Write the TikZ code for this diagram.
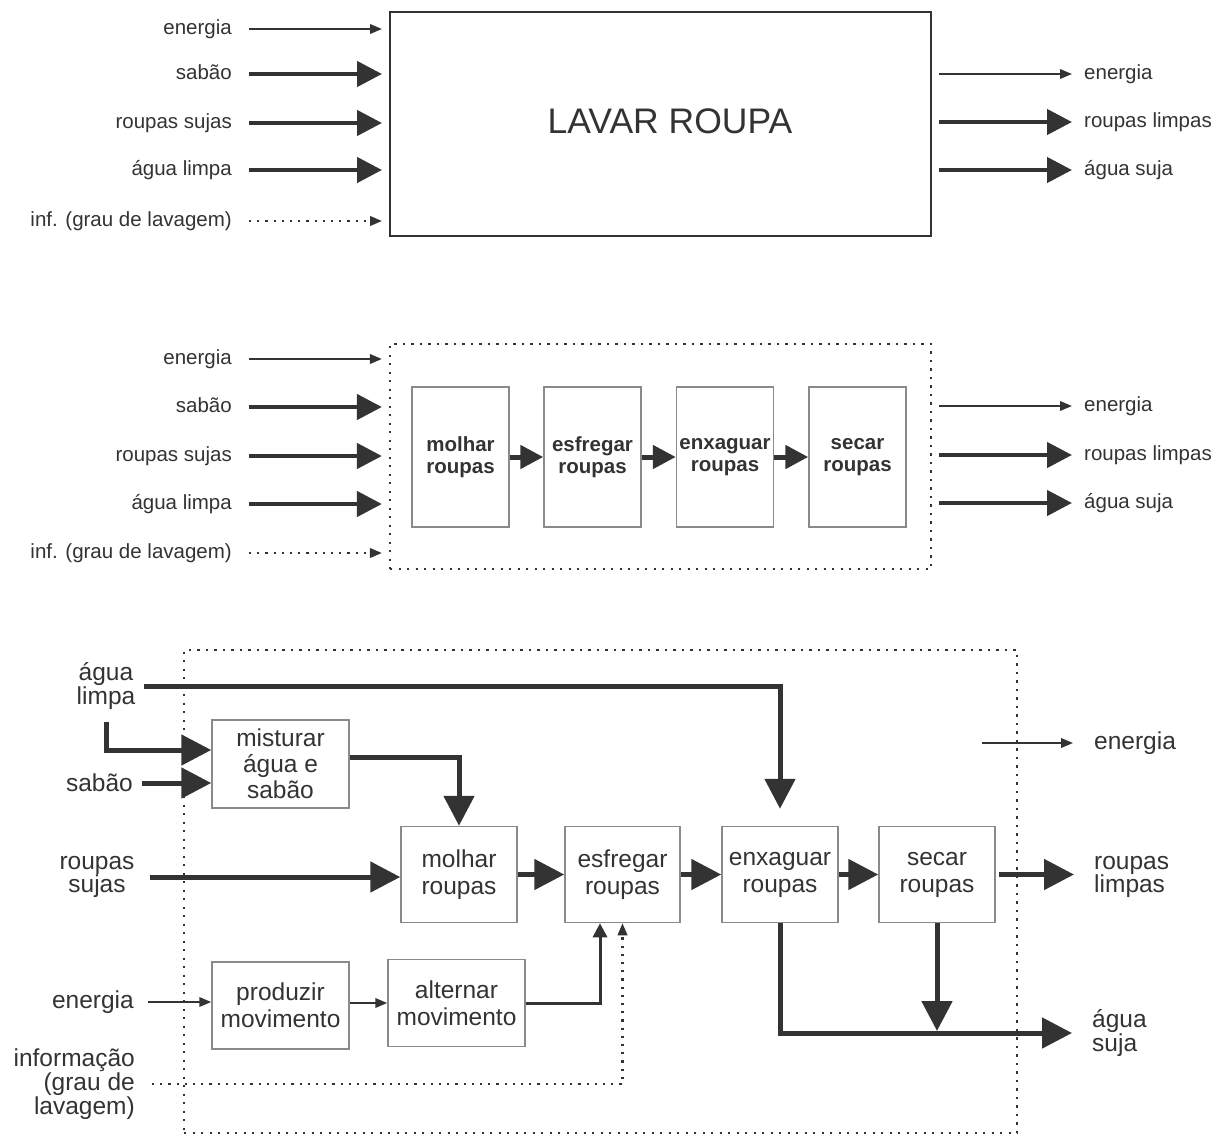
\documentclass[tikz,border=0pt]{standalone}
\usepackage{fontspec}
\setmainfont{Liberation Sans}
\usetikzlibrary{arrows.meta}
\definecolor{ink}{HTML}{333333}
\definecolor{boxc}{HTML}{8A8A8A}
\begin{document}
\begin{tikzpicture}[x=1pt,y=-1pt,
 every node/.style={text=ink},
 lab/.style={inner sep=0pt, font=\fontsize{20.5}{22}\selectfont, text height=15pt, text depth=4pt},
 lab3/.style={inner sep=0pt, font=\fontsize{24.5}{22}\selectfont},
 bigbox/.style={draw=ink, line width=2pt, minimum width=541pt, minimum height=224pt},
 sysbox/.style={draw=ink, line width=2.2pt, dash pattern=on 2.2pt off 6.3pt},
 fbox2/.style={draw=boxc, line width=1.5pt, minimum width=97pt, minimum height=140pt, align=center, font=\bfseries\fontsize{20.5}{22}\selectfont, inner sep=0pt},
 fbox3/.style={draw=boxc, line width=1.5pt, align=center, font=\fontsize{24.5}{27}\selectfont, inner sep=0pt},
 thinarr/.style={draw=ink, line width=2pt, -{Triangle[length=12pt,width=9.5pt]}},
 thickarr/.style={draw=ink, line width=4.5pt, -{Triangle[length=25pt,width=25pt]}},
 midarr/.style={draw=ink, line width=5pt, -{Triangle[length=23pt,width=23pt]}},
 bigarr/.style={draw=ink, line width=5pt, -{Triangle[length=30pt,width=30pt]}},
 medarr/.style={draw=ink, line width=3pt, -{Triangle[length=14pt,width=14pt]}},
 dotarr/.style={draw=ink, line width=2.2pt, dash pattern=on 2.2pt off 6pt, -{Triangle[length=12pt,width=9.5pt]}}
]
\useasboundingbox (0,0) rectangle (1226,1135);

% ---------------- Section 1 ----------------
\node[bigbox] (lav) at (660.5,124) {};
\node[inner sep=0pt, font=\fontsize{35.5}{40}\selectfont] (lavt) at (670,121) {LAVAR ROUPA};
\node[lab, anchor=east] (s1e) at (232,29) {energia};
\node[lab, anchor=east] (s1s) at (232,74) {sabão};
\node[lab, anchor=east] (s1r) at (232,123) {roupas sujas};
\node[lab, anchor=east] (s1a) at (232,170) {água limpa};
\node[lab, anchor=east] (s1i) at (232,221) {inf. (grau de lavagem)};
\draw[thinarr, shorten <=17pt, shorten >=7pt] (s1e.east) -- (s1e.east -| lav.west);
\draw[thickarr, shorten <=17pt, shorten >=7pt] (s1s.east) -- (s1s.east -| lav.west);
\draw[thickarr, shorten <=17pt, shorten >=7pt] (s1r.east) -- (s1r.east -| lav.west);
\draw[thickarr, shorten <=17pt, shorten >=7pt] (s1a.east) -- (s1a.east -| lav.west);
\draw[dotarr, shorten <=17pt, shorten >=7pt] (s1i.east) -- (s1i.east -| lav.west);
\node[lab, anchor=west] (s1E) at (1084,74) {energia};
\node[lab, anchor=west] (s1L) at (1084,122) {roupas limpas};
\node[lab, anchor=west] (s1S) at (1084,170) {água suja};
\draw[thinarr, shorten <=7pt, shorten >=12pt] (s1E.west -| lav.east) -- (s1E.west);
\draw[thickarr, shorten <=7pt, shorten >=12pt] (s1L.west -| lav.east) -- (s1L.west);
\draw[thickarr, shorten <=7pt, shorten >=12pt] (s1S.west -| lav.east) -- (s1S.west);

% ---------------- Section 2 ----------------
\node[sysbox, minimum width=541pt, minimum height=225pt] (sys2) at (660.5,456.5) {};
\node[lab, anchor=east] (s2e) at (232,359) {energia};
\node[lab, anchor=east] (s2s) at (232,407) {sabão};
\node[lab, anchor=east] (s2r) at (232,456) {roupas sujas};
\node[lab, anchor=east] (s2a) at (232,504) {água limpa};
\node[lab, anchor=east] (s2i) at (232,553) {inf. (grau de lavagem)};
\draw[thinarr, shorten <=17pt, shorten >=7pt] (s2e.east) -- (s2e.east -| sys2.west);
\draw[thickarr, shorten <=17pt, shorten >=7pt] (s2s.east) -- (s2s.east -| sys2.west);
\draw[thickarr, shorten <=17pt, shorten >=7pt] (s2r.east) -- (s2r.east -| sys2.west);
\draw[thickarr, shorten <=17pt, shorten >=7pt] (s2a.east) -- (s2a.east -| sys2.west);
\draw[dotarr, shorten <=17pt, shorten >=7pt] (s2i.east) -- (s2i.east -| sys2.west);
\node[lab, anchor=west] (s2E) at (1084,406) {energia};
\node[lab, anchor=west] (s2L) at (1084,455) {roupas limpas};
\node[lab, anchor=west] (s2S) at (1084,503) {água suja};
\draw[thinarr, shorten <=7pt, shorten >=12pt] (s2E.west -| sys2.east) -- (s2E.west);
\draw[thickarr, shorten <=7pt, shorten >=12pt] (s2L.west -| sys2.east) -- (s2L.west);
\draw[thickarr, shorten <=7pt, shorten >=12pt] (s2S.west -| sys2.east) -- (s2S.west);
\node[fbox2] (b1) at (460.5,457) {molhar\\roupas};
\node[fbox2] (b2) at (592.5,457) {esfregar\\roupas};
\node[fbox2] (b3) at (725,457) {enxaguar\\roupas};
\node[fbox2] (b4) at (857.5,457) {secar\\roupas};
\draw[midarr] (b1.east) -- (b2.west);
\draw[midarr] (b2.east) -- (b3.west);
\draw[midarr] (b3.east) -- (b4.west);

% ---------------- Section 3 ----------------
\node[sysbox, minimum width=833pt, minimum height=483pt] (sys3) at (600.5,891.5) {};
\node[fbox3, minimum width=137pt, minimum height=88pt] (mist) at (280.5,764) {misturar\\[-1pt]água e\\[-1pt]sabão};
\node[fbox3, minimum width=116pt, minimum height=96pt] (mol) at (459,874.5) {molhar\\roupas};
\node[fbox3, minimum width=115pt, minimum height=96pt] (esf) at (622.5,874.5) {esfregar\\roupas};
\node[fbox3, minimum width=116pt, minimum height=96pt] (enx) at (780,874.5) {enxaguar\\roupas};
\node[fbox3, minimum width=116pt, minimum height=96pt] (sec) at (937,874.5) {secar\\roupas};
\node[fbox3, minimum width=137pt, minimum height=87pt] (prod) at (280.5,1005.5) {produzir\\movimento};
\node[fbox3, minimum width=137pt, minimum height=87pt] (alt) at (456.5,1003) {alternar\\movimento};

\node[lab3, align=center] (agl) at (106,686) {água\\limpa};
\node[lab3, anchor=east] (sab3) at (133,783) {sabão};
\node[lab3, align=center] (rsj) at (97,877) {roupas\\sujas};
\node[lab3, anchor=east] (en3l) at (134,1002) {energia};
\node[lab3, align=right, anchor=east] (inf3) at (135,1084) {informação\\(grau de\\lavagem)};
\node[lab3, anchor=west] (en3r) at (1094,743) {energia};
\node[lab3, align=left, anchor=west] (rl3) at (1094,877) {roupas\\limpas};
\node[lab3, align=left, anchor=west] (as3) at (1092,1033) {água\\suja};
\coordinate (e3s) at (982,743);

\draw[bigarr, shorten <=9pt, shorten >=17pt] (agl.east) -| (enx.north);
\draw[bigarr, shorten <=12pt] (agl.south) |- ([yshift=14pt]mist.west);
\draw[bigarr, shorten <=9pt] (sab3.east) -- (sab3.east -| mist.west);
\draw[bigarr] ([yshift=7pt]mist.east) -| (mol.north);
\draw[bigarr, shorten <=15pt] (rsj.east) -- (rsj.east -| mol.west);
\draw[bigarr] (mol.east) -- (esf.west);
\draw[bigarr] (esf.east) -- (enx.west);
\draw[bigarr] (enx.east) -- (sec.west);
\draw[bigarr, shorten <=3pt, shorten >=20pt] (sec.east) -- (sec.east -| rl3.west);
\draw[thinarr, shorten >=21pt] (e3s) -- (en3r.west);
\draw[bigarr, shorten >=20pt] (enx.south) |- (as3.west);
\draw[bigarr, shorten >=2pt] (sec.south) -- (sec.south |- as3.west);
\draw[thinarr, shorten <=14pt] (en3l.east) -- (en3l.east -| prod.west);
\draw[thinarr] (prod.east |- alt.west) -- (alt.west);
\draw[medarr] (alt.east) -| ([xshift=-22.5pt]esf.south);
\draw[dotarr, shorten <=17pt] (inf3.east) -| (esf.south);
\end{tikzpicture}
\end{document}
